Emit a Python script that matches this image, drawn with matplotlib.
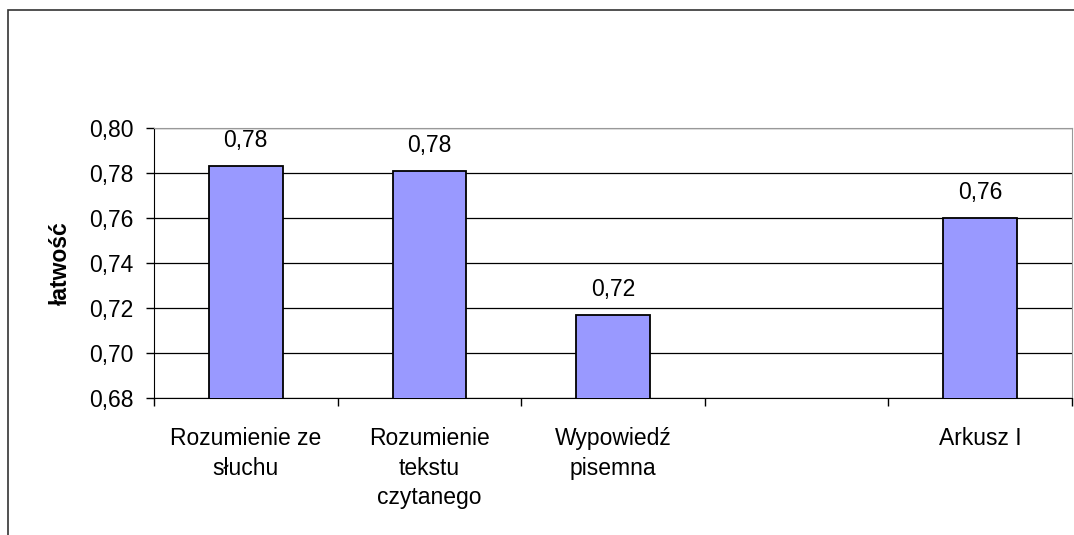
import matplotlib.pyplot as plt
import matplotlib.patches as patches
import numpy as np

plt.rcParams['font.family'] = ['Liberation Sans', 'DejaVu Sans']

# dane
kategorie = ["Rozumienie ze\nsłuchu", "Rozumienie\ntekstu\nczytanego", "Wypowiedź\npisemna", "", "Arkusz I"]
latwosc = [0.783, 0.781, 0.717, np.nan, 0.760]
etykiety = ["0,78", "0,78", "0,72", "", "0,76"]
y_ticks = [0.68, 0.70, 0.72, 0.74, 0.76, 0.78, 0.80]

FS = 16.5

fig = plt.figure(figsize=(10.74, 5.35), dpi=100)
ax = fig.add_axes([154 / 1074, 1 - 398 / 535, (1072 - 154) / 1074, (398 - 128) / 535])

# ramka wokół wykresu
fig.patches.append(patches.Rectangle((8 / 1074, -0.05), 1.2, 1.05 - 10 / 535,
                                     transform=fig.transFigure, fill=False,
                                     edgecolor='#333333', linewidth=1.2, zorder=0))

x = np.arange(len(kategorie))
ax.set_axisbelow(True)
ax.yaxis.grid(True, color='black', linewidth=0.9)
ax.bar(x, latwosc, width=0.4, color='#9999FF', edgecolor='black', linewidth=1.3, zorder=3)

for xi, v, lab in zip(x, latwosc, etykiety):
    if lab:
        ax.annotate(lab, (xi, v), xytext=(0, 10), textcoords='offset points',
                    ha='center', va='bottom', fontsize=FS)

ax.set_xlim(-0.5, len(kategorie) - 0.5)
ax.set_ylim(0.68, 0.80)
ax.set_yticks(y_ticks)
ax.set_yticklabels([f"{t:.2f}".replace('.', ',') for t in y_ticks], fontsize=FS)
ax.set_xticks(np.arange(-0.5, len(kategorie)), labels=[])
ax.set_xticks(x, labels=kategorie, minor=True, fontsize=FS, linespacing=1.37, va='top')
ax.tick_params(axis='x', which='major', length=6, direction='out', width=1)
ax.tick_params(axis='x', which='minor', length=0, pad=21)
ax.tick_params(axis='y', length=6, width=1, pad=9)
ax.set_ylabel("łatwość", fontsize=FS, fontweight='bold', labelpad=12)

for s in ['top', 'right']:
    ax.spines[s].set_color('#999999')
for s in ['left', 'bottom']:
    ax.spines[s].set_color('black')

fig.savefig("out.png", dpi=100)
